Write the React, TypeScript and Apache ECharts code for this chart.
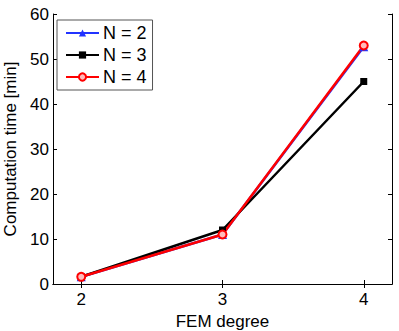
import React, { useEffect, useRef } from "react";
import * as echarts from "echarts";

const degrees = [2, 3, 4];
const seriesNames = ["N = 2", "N = 3", "N = 4"];
const n2 = [1.6, 11, 52.7];
const n3 = [1.6, 12, 45];
const n4 = [1.6, 11, 53];
const yTicks = [0, 10, 20, 30, 40, 50, 60];

const FONT = "Liberation Sans";
const FS = 17;

export default function App() {
  const ref = useRef<HTMLDivElement>(null);
  useEffect(() => {
    if (!ref.current) return;
    const chart = echarts.init(ref.current, undefined, { renderer: "svg" });
    const pair = (vals: number[]) => degrees.map((d, i) => [d, vals[i]]);
    const axisCommon = {
      axisLine: { show: true, lineStyle: { color: "#000", width: 1 } },
      splitLine: { show: false },
    };
    chart.setOption({
      animation: false,
      backgroundColor: "#fff",
      textStyle: { fontFamily: FONT },
      grid: { left: 53, right: 7, top: 14, bottom: 47, containLabel: false, outerBoundsMode: "none" },
      legend: {
        left: 57,
        top: 20,
        orient: "vertical",
        data: seriesNames,
        backgroundColor: "#fff",
        borderColor: "#555",
        borderWidth: 1,
        padding: [4, 6, 4, 8],
        itemWidth: 33,
        itemHeight: 9,
        itemGap: 4,
        textStyle: { fontFamily: FONT, fontSize: 18, lineHeight: 18, color: "#000", padding: [0, 0, 0, -1] },
      },
      xAxis: [
        {
          type: "value",
          min: 1.8,
          max: 4.2,
          position: "bottom",
          ...axisCommon,
          axisTick: { show: true, inside: true, length: 4, customValues: degrees, lineStyle: { color: "#000" } },
          axisLabel: { show: true, customValues: degrees, fontSize: FS, color: "#000", fontFamily: FONT, margin: 7 },
          name: "FEM degree",
          nameLocation: "middle",
          nameGap: 25,
          nameTextStyle: { fontSize: FS, color: "#000", fontFamily: FONT },
        },
        {
          type: "value",
          min: 1.8,
          max: 4.2,
          position: "top",
          ...axisCommon,
          axisTick: { show: true, inside: true, length: 4, customValues: degrees, lineStyle: { color: "#000" } },
          axisLabel: { show: false },
        },
      ],
      yAxis: [
        {
          type: "value",
          min: 0,
          max: 60,
          interval: 10,
          position: "left",
          ...axisCommon,
          axisTick: { show: true, inside: true, length: 4, customValues: yTicks, lineStyle: { color: "#000" } },
          axisLabel: { show: true, customValues: yTicks, fontSize: FS, color: "#000", fontFamily: FONT, margin: 4 },
          name: "Computation time [min]",
          nameLocation: "middle",
          nameGap: 29,
          nameTextStyle: { fontSize: FS, color: "#000", fontFamily: FONT },
        },
        {
          type: "value",
          min: 0,
          max: 60,
          interval: 10,
          position: "right",
          ...axisCommon,
          axisTick: { show: true, inside: true, length: 4, lineStyle: { color: "#000" } },
          axisLabel: { show: false },
        },
      ],
      series: [
        {
          name: seriesNames[0],
          type: "line",
          data: pair(n2),
          symbol: "triangle",
          symbolSize: 9,
          lineStyle: { color: "#2233ff", width: 2.5 },
          itemStyle: { color: "#2233ff" },
        },
        {
          name: seriesNames[1],
          type: "line",
          data: pair(n3),
          symbol: "rect",
          symbolSize: 7,
          lineStyle: { color: "#000", width: 2.5 },
          itemStyle: { color: "#000" },
        },
        {
          name: seriesNames[2],
          type: "line",
          data: pair(n4),
          symbol: "circle",
          symbolSize: 8,
          lineStyle: { color: "#ff0000", width: 2.5 },
          itemStyle: { color: "#ffbbbb", borderColor: "#ff0000", borderWidth: 2 },
        },
      ],
    });
    return () => chart.dispose();
  }, []);
  return <div ref={ref} style={{ width: 399, height: 331, position: "absolute", left: 0, top: 0 }} />;
}
